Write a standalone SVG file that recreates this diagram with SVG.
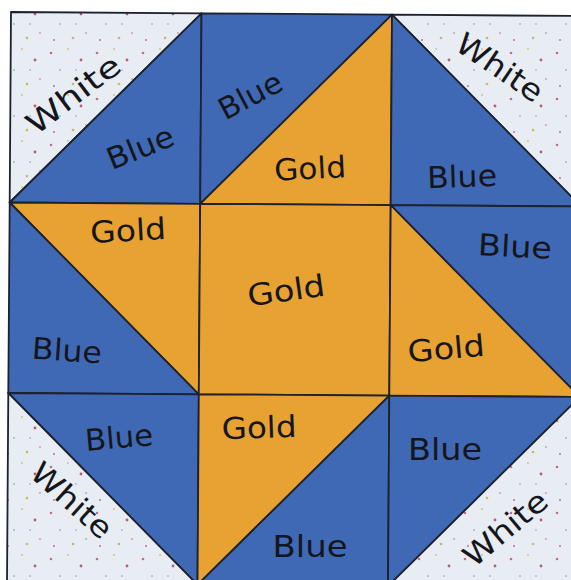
<svg xmlns="http://www.w3.org/2000/svg" width="571" height="580" viewBox="0 0 571 580">
<defs>
<pattern id="speck" width="46" height="46" patternUnits="userSpaceOnUse">
<rect width="46" height="46" fill="#E8EDF4"/>
<circle cx="5" cy="7" r="1.3" fill="#C86A8A"/>
<circle cx="22" cy="3" r="1" fill="#D9C27A"/>
<circle cx="35" cy="14" r="1.4" fill="#B85A7A"/>
<circle cx="14" cy="24" r="1" fill="#8FC6B8"/>
<circle cx="40" cy="33" r="1.1" fill="#D6A0B8"/>
<circle cx="27" cy="38" r="1.3" fill="#C8B46A"/>
<circle cx="8" cy="40" r="1" fill="#C27090"/>
<circle cx="30" cy="24" r="0.9" fill="#A8B8D8"/>
</pattern>
<style>
.w{fill:url(#speck)}
.b{fill:#3F69B4}
.g{fill:#E8A232}
polygon{stroke:#1C2230;stroke-width:1.8;stroke-linejoin:round}
text{font-family:"DejaVu Sans","Liberation Sans",sans-serif;font-size:30px;fill:#15161C;text-anchor:middle}
</style>
</defs>
<rect width="571" height="580" fill="#FFFFFF"/>
<g id="cell-top-left">
<polygon class="w" points="11,12 201.5,13.3 9.7,202.5"/>
<polygon class="b" points="201.5,13.3 200.2,203.8 9.7,202.5"/>
<text transform="translate(73,94) rotate(-37)" y="11" textLength="110" lengthAdjust="spacingAndGlyphs">White</text>
<text transform="translate(140,147) rotate(-22)" y="11" textLength="70" lengthAdjust="spacingAndGlyphs">Blue</text>
</g>
<g id="cell-top-middle">
<polygon class="b" points="201.5,13.3 392,14.7 200.2,203.8"/>
<polygon class="g" points="392,14.7 390.7,205.2 200.2,203.8"/>
<text transform="translate(250,95) rotate(-28)" y="11" textLength="68" lengthAdjust="spacingAndGlyphs">Blue</text>
<text transform="translate(310,168) rotate(-3)" y="11" textLength="72" lengthAdjust="spacingAndGlyphs">Gold</text>
</g>
<g id="cell-top-right">
<polygon class="w" points="392,14.7 582.5,16 581.2,206.5"/>
<polygon class="b" points="392,14.7 581.2,206.5 390.7,205.2"/>
<text transform="translate(500,67) rotate(34)" y="11" textLength="98" lengthAdjust="spacingAndGlyphs">White</text>
<text transform="translate(462,176) rotate(-2)" y="11" textLength="70" lengthAdjust="spacingAndGlyphs">Blue</text>
</g>
<g id="cell-middle-left">
<polygon class="g" points="9.7,202.5 200.2,203.8 198.8,394.3"/>
<polygon class="b" points="9.7,202.5 198.8,394.3 8.3,393"/>
<text transform="translate(128,230) rotate(-3)" y="11" textLength="76" lengthAdjust="spacingAndGlyphs">Gold</text>
<text transform="translate(67,350) rotate(4)" y="11" textLength="70" lengthAdjust="spacingAndGlyphs">Blue</text>
</g>
<g id="cell-center">
<polygon class="g" points="200.2,203.8 390.7,205.2 389.3,395.7 198.8,394.3"/>
<text transform="translate(286,290) rotate(-8)" y="11" textLength="78" lengthAdjust="spacingAndGlyphs">Gold</text>
</g>
<g id="cell-middle-right">
<polygon class="b" points="390.7,205.2 581.2,206.5 579.8,397"/>
<polygon class="g" points="390.7,205.2 579.8,397 389.3,395.7"/>
<text transform="translate(515,246) rotate(3)" y="11" textLength="74" lengthAdjust="spacingAndGlyphs">Blue</text>
<text transform="translate(446,348) rotate(-5)" y="11" textLength="77" lengthAdjust="spacingAndGlyphs">Gold</text>
</g>
<g id="cell-bottom-left">
<polygon class="b" points="8.3,393 198.8,394.3 197.5,584.8"/>
<polygon class="w" points="8.3,393 197.5,584.8 7,583.5"/>
<text transform="translate(119,437) rotate(-5)" y="11" textLength="68" lengthAdjust="spacingAndGlyphs">Blue</text>
<text transform="translate(72,500) rotate(42)" y="11" textLength="98" lengthAdjust="spacingAndGlyphs">White</text>
</g>
<g id="cell-bottom-middle">
<polygon class="g" points="198.8,394.3 389.3,395.7 197.5,584.8"/>
<polygon class="b" points="389.3,395.7 388,586.2 197.5,584.8"/>
<text transform="translate(259,427) rotate(-2)" y="11" textLength="75" lengthAdjust="spacingAndGlyphs">Gold</text>
<text transform="translate(310,546) rotate(0)" y="11" textLength="75" lengthAdjust="spacingAndGlyphs">Blue</text>
</g>
<g id="cell-bottom-right">
<polygon class="b" points="389.3,395.7 579.8,397 388,586.2"/>
<polygon class="w" points="579.8,397 578.5,587.5 388,586.2"/>
<text transform="translate(445,449) rotate(0)" y="11" textLength="74" lengthAdjust="spacingAndGlyphs">Blue</text>
<text transform="translate(505,528) rotate(-40)" y="11" textLength="100" lengthAdjust="spacingAndGlyphs">White</text>
</g>
<g id="connectors"></g>
</svg>
